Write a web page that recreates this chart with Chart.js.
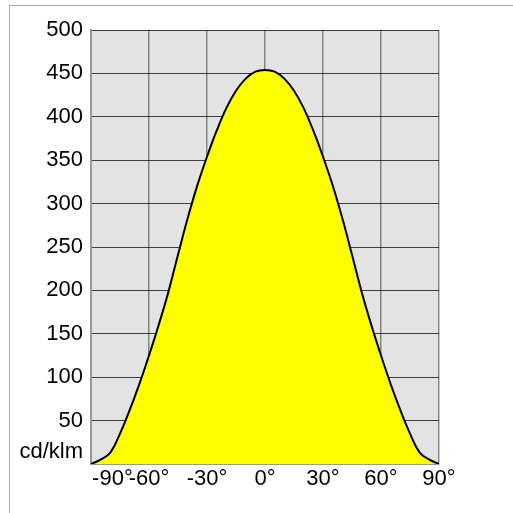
<!DOCTYPE html>
<html>
<head>
<meta charset="utf-8">
<script src="https://cdn.jsdelivr.net/npm/chart.js@4/dist/chart.umd.min.js"></script>
<style>
  html, body { margin: 0; padding: 0; background: #fff; }
  #frame { position: absolute; left: 9px; top: 5px; width: 600px; height: 600px;
           border-top: 1px solid #aaa; border-left: 1px solid #aaa; }
  #wrap { position: absolute; left: 0; top: 0; width: 513px; height: 513px; }
</style>
</head>
<body>
<div id="frame"></div>
<div id="wrap"><canvas id="lum"></canvas></div>
<script>
(function () {
  'use strict';

  // luminous intensity curve (deg -> cd/klm)
  var angles = [-90, -85, -80, -75, -70, -65, -60, -55, -50, -45, -40, -35, -30, -25, -20, -15, -10, -5,
    0, 5, 10, 15, 20, 25, 30, 35, 40, 45, 50, 55, 60, 65, 70, 75, 80, 85, 90];
  var intensity = [0, 5, 13, 35, 62, 92, 125, 160, 198, 241, 283, 321, 354, 384, 410, 430, 444, 452,
    454, 452, 444, 430, 410, 384, 354, 321, 283, 241, 198, 160, 125, 92, 62, 35, 13, 5, 0];

  var xTicks = [-90, -60, -30, 0, 30, 60, 90];
  var yTicks = [0, 50, 100, 150, 200, 250, 300, 350, 400, 450, 500];
  var yUnit = 'cd/klm';

  var font = { family: "'Liberation Sans', Arial, sans-serif", size: 22, lineHeight: 1.1 };

  var points = angles.map(function (a, i) { return { x: a, y: intensity[i] }; });

  // grey plot background
  var plotBg = {
    id: 'plotBg',
    beforeDraw: function (chart) {
      var a = chart.chartArea, c = chart.ctx;
      c.save();
      c.fillStyle = '#e3e3e3';
      c.fillRect(a.left, a.top, a.right - a.left, a.bottom - a.top);
      c.restore();
    }
  };

  new Chart(document.getElementById('lum'), {
    type: 'line',
    data: {
      datasets: [{
        data: points,
        borderColor: '#000',
        borderWidth: 2,
        backgroundColor: '#ffff00',
        fill: 'origin',
        tension: 0.4,
        pointRadius: 0
      }]
    },
    options: {
      responsive: true,
      maintainAspectRatio: false,
      animation: false,
      layout: { padding: { left: 0, right: 74, top: 30, bottom: 0 } },
      plugins: { legend: { display: false }, tooltip: { enabled: false } },
      scales: {
        x: {
          type: 'linear',
          min: -90, max: 90,
          z: 1,
          afterFit: function (s) { s.height = 49; },
          afterBuildTicks: function (s) { s.ticks = xTicks.map(function (v) { return { value: v }; }); },
          grid: { color: 'rgba(0,0,0,0.42)', lineWidth: 1.5, drawTicks: false },
          border: { color: '#999', width: 2 },
          ticks: {
            font: font, color: '#000', padding: 3, autoSkip: false, maxRotation: 0,
            callback: function (v) {
              // first label sits to the right of its tick
              return v === -90 ? '       ' + v + '°' : v + '°';
            }
          }
        },
        y: {
          min: 0, max: 500,
          z: 1,
          afterFit: function (s) { s.width = 91; },
          afterBuildTicks: function (s) { s.ticks = yTicks.map(function (v) { return { value: v }; }); },
          grid: { color: 'rgba(0,0,0,0.72)', lineWidth: 1, drawTicks: false },
          border: { color: '#999', width: 2 },
          ticks: {
            font: font, color: '#000', padding: 8, autoSkip: false,
            callback: function (v) { return v === 0 ? [yUnit, ''] : v; }
          }
        }
      }
    },
    plugins: [plotBg]
  });
})();
</script>
</body>
</html>
